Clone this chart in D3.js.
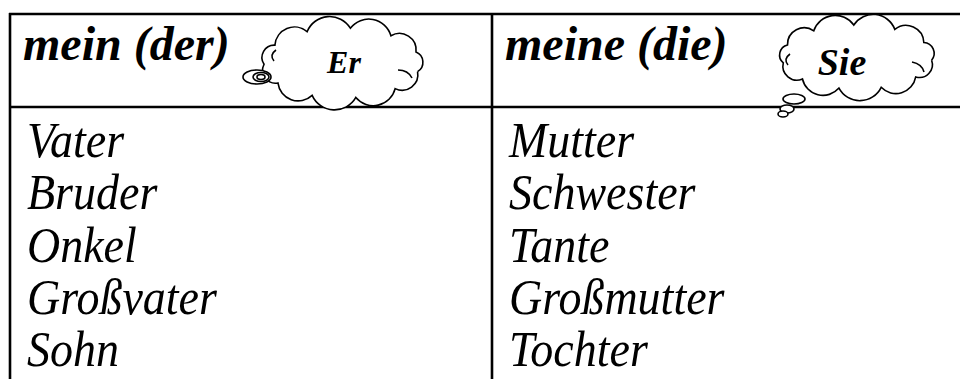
<!DOCTYPE html>
<html>
<head>
<meta charset="utf-8">
<script src="https://cdn.jsdelivr.net/npm/d3@7"></script>
<style>
html,body{margin:0;padding:0;background:#fff;}
svg{display:block;}
</style>
</head>
<body>
<svg id="c" width="960" height="379"></svg>
<script>
// ---- data ----
const headers = ["mein (der)", "meine (die)"];
const pronouns = ["Er", "Sie"];
const masculine = ["Vater", "Bruder", "Onkel", "Großvater", "Sohn"];
const feminine = ["Mutter", "Schwester", "Tante", "Großmutter", "Tochter"];

const svg = d3.select("#c");
const W = 960, H = 379;
const serif = "'Liberation Serif','Times New Roman',Times,serif";

const colX = [10, 492];
const rowY = d3.scalePoint().domain(d3.range(masculine.length)).range([157, 366]);

const lineG = svg.append("g").attr("stroke", "#000").attr("stroke-width", 2.6).attr("fill", "none");
lineG.append("line").attr("x1", 9).attr("x2", W).attr("y1", 14).attr("y2", 14);
lineG.append("line").attr("x1", 9).attr("x2", W).attr("y1", 107).attr("y2", 107);
colX.forEach(cx => lineG.append("line").attr("x1", cx).attr("x2", cx).attr("y1", 13).attr("y2", H));

// headers
svg.selectAll("text.h").data(headers).join("text").attr("class", "h")
  .attr("transform", (d, i) => `translate(${colX[i] + 13},60)`)
  .attr("font-family", serif).attr("font-weight", "bold").attr("font-style", "italic")
  .attr("font-size", 48).text(d => d);

// body words
const cols = [masculine, feminine];
cols.forEach((arr, ci) => {
  svg.selectAll("text.w" + ci).data(arr).join("text").attr("class", "w" + ci)
    .attr("transform", (d, i) => `translate(${colX[ci] + 17},${rowY(i)}) scale(1,1.1)`)
    .attr("font-family", serif).attr("font-style", "italic")
    .attr("font-size", 46).text(d => d);
});

// cloud generator
function cloudPath(cx, cy, rx, ry, n, rot) {
  const pts = [];
  for (let i = 0; i < n; i++) {
    const a = rot + i * 2 * Math.PI / n;
    pts.push([cx + rx * Math.cos(a), cy + ry * Math.sin(a)]);
  }
  let p = "M" + pts[0][0] + "," + pts[0][1];
  for (let i = 1; i <= n; i++) {
    const q = pts[i % n], pr = pts[i - 1];
    const ch = Math.hypot(q[0] - pr[0], q[1] - pr[1]);
    const r = ch * 0.56;
    p += " A" + r + "," + r + " 0 0 1 " + q[0] + "," + q[1];
  }
  return p;
}

const clouds = [
  {cx: 342, cy: 63, rx: 78, ry: 35, n: 11, rot: 0.25, tx: 344, ty: 73, fs: 32},
  {cx: 857, cy: 57, rx: 75, ry: 32, n: 11, rot: 0.1, tx: 842, ty: 75, fs: 38}
];
const cg = svg.append("g").attr("stroke", "#000").attr("stroke-width", 1.6).attr("fill", "#fff");
clouds.forEach((c, i) => {
  cg.append("path").attr("d", cloudPath(c.cx, c.cy, c.rx, c.ry, c.n, c.rot));
  svg.append("text").attr("x", c.tx).attr("y", c.ty).attr("text-anchor", "middle")
    .attr("font-family", serif).attr("font-weight", "bold").attr("font-style", "italic")
    .attr("font-size", c.fs).text(pronouns[i]);
});
// inner curls
cg.append("path").attr("fill", "none").attr("d", "M276,50 q-7,5 -2,11");
cg.append("path").attr("fill", "none").attr("d", "M398,70 q10,0 14,8");
cg.append("path").attr("fill", "none").attr("d", "M790,54 q-7,5 -2,11");
cg.append("path").attr("fill", "none").attr("d", "M912,62 q10,2 12,10");
// thought bubbles
const bub = [
  [257, 77, 14, 7], [261, 77, 8, 4.5], [261, 77, 4, 2.5],
  [794, 99, 11, 5], [787, 109, 7, 4], [783, 114, 5, 3]
];
cg.selectAll("ellipse").data(bub).join("ellipse")
  .attr("cx", d => d[0]).attr("cy", d => d[1]).attr("rx", d => d[2]).attr("ry", d => d[3]);
</script>
</body>
</html>
